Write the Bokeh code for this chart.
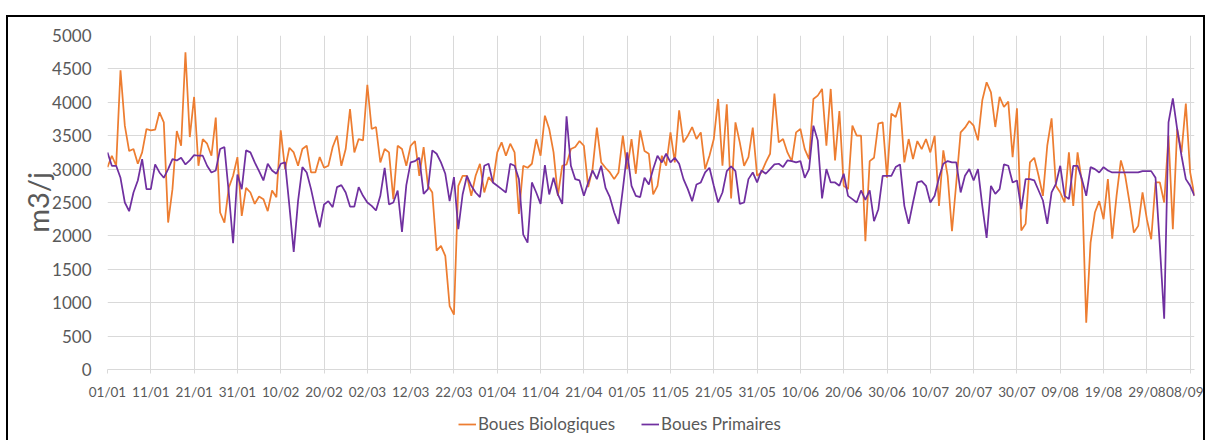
from bokeh.plotting import figure
from bokeh.models import FixedTicker, Legend, LegendItem, ColumnDataSource, Spacer
from bokeh.layouts import column, row
from bokeh.embed import file_html
from bokeh.resources import INLINE

# ---- data ----
tick_labels = ["01/01", "11/01", "21/01", "31/01", "10/02", "20/02", "02/03", "12/03",
               "22/03", "01/04", "11/04", "21/04", "01/05", "11/05", "21/05", "31/05",
               "10/06", "20/06", "30/06", "10/07", "20/07", "30/07", "09/08", "19/08",
               "29/08", "08/09"]
tick_days = [0, 10, 20, 30, 40, 50, 60, 70, 80, 90, 100, 110, 120, 130, 140, 150,
             160, 170, 180, 190, 200, 210, 220, 230, 240, 250]
y_ticks = [0, 500, 1000, 1500, 2000, 2500, 3000, 3500, 4000, 4500, 5000]

boues_biologiques = [
    3030, 3200, 3050, 4480, 3650, 3270, 3300, 3080, 3250, 3600,
    3580, 3590, 3850, 3700, 2200, 2700, 3570, 3350, 4750, 3480,
    4080, 3050, 3450, 3380, 3200, 3770, 2350, 2200, 2720, 2900,
    3180, 2300, 2720, 2650, 2480, 2590, 2550, 2370, 2680, 2580,
    3580, 3000, 3320, 3250, 3050, 3300, 3350, 2950, 2950, 3180,
    3020, 3050, 3330, 3500, 3050, 3300, 3900, 3250, 3450, 3430,
    4260, 3600, 3630, 3100, 3300, 3250, 2550, 3350, 3300, 3050,
    3350, 3420, 2900, 3330, 2750, 2650, 1780, 1850, 1700, 950,
    820, 2750, 2900, 2900, 2600, 2900, 3080, 2650, 2880, 2800,
    3250, 3400, 3200, 3380, 3250, 2330, 3050, 3020, 3080, 3450,
    3200, 3800, 3600, 3250, 2600, 3050, 3070, 3300, 3330, 3420,
    3350, 2730, 3000, 3620, 3100, 3020, 2950, 2850, 2950, 3500,
    3000, 3450, 2930, 3580, 3270, 3230, 2620, 2750, 3200, 3050,
    3550, 3100, 3880, 3400, 3500, 3630, 3450, 3550, 3000, 3200,
    3450, 4050, 3050, 3970, 2560, 3700, 3400, 3050, 3180, 3620,
    2900, 2950, 3100, 3230, 4130, 3400, 3450, 3250, 3120, 3550,
    3600, 3300, 3150, 4050, 4100, 4200, 3350, 4200, 3130, 3870,
    2750, 2700, 3650, 3500, 3500, 1920, 3120, 3170, 3680, 3700,
    2870, 3830, 3780, 4000, 3100, 3450, 3150, 3420, 3300, 3450,
    3250, 3500, 2450, 3280, 2900, 2070, 2800, 3550, 3620, 3720,
    3650, 3430, 4030, 4300, 4150, 3630, 4080, 3930, 4010, 3180,
    3910, 2080, 2180, 3100, 3170, 2900, 2600, 3350, 3760, 2750,
    2650, 2500, 3250, 2450, 3250, 2800, 700, 1900, 2350, 2520,
    2250, 2850, 1960, 2600, 3130, 2900, 2500, 2050, 2150, 2650,
    2250, 1950, 2800, 2800, 2500, 3500, 2100, 3600, 3250, 3980,
    2950, 2600]

boues_primaires = [
    3250, 3050, 3050, 2870, 2500, 2370, 2650, 2830, 3150, 2700,
    2700, 3070, 2950, 2870, 3000, 3150, 3130, 3170, 3070, 3130,
    3210, 3200, 3200, 3050, 2950, 2980, 3300, 3330, 2650, 1890,
    2920, 2700, 3280, 3250, 3100, 2970, 2830, 3080, 2980, 2930,
    3080, 3100, 2450, 1760, 2520, 3030, 2950, 2700, 2400, 2130,
    2470, 2520, 2430, 2730, 2760, 2650, 2440, 2440, 2730, 2600,
    2500, 2450, 2380, 2600, 3020, 2470, 2500, 2680, 2060, 2760,
    3100, 3120, 3170, 2630, 2700, 3280, 3230, 3100, 2930, 2520,
    2880, 2100, 2620, 2900, 2750, 2650, 2580, 3050, 3080, 2800,
    2750, 2700, 2650, 3080, 3050, 2850, 2020, 1900, 2800, 2650,
    2480, 3060, 2620, 2870, 2620, 2480, 3790, 3050, 2850, 2830,
    2600, 2800, 2980, 2850, 3050, 2720, 2580, 2350, 2180, 2700,
    3250, 2750, 2600, 2580, 2870, 2770, 3000, 3200, 3100, 3230,
    3100, 3170, 3080, 2850, 2700, 2520, 2770, 2800, 2950, 3020,
    2750, 2500, 2650, 2970, 3040, 2970, 2480, 2500, 2850, 2950,
    2800, 2980, 2930, 3000, 3070, 3080, 3030, 3130, 3120, 3100,
    3120, 2870, 3000, 3650, 3430, 2560, 3000, 2800, 2800, 2750,
    2930, 2600, 2550, 2500, 2680, 2540, 2680, 2220, 2400, 2900,
    2900, 2900, 3030, 3070, 2450, 2180, 2500, 2800, 2820, 2750,
    2500, 2600, 2870, 3080, 3120, 3100, 3100, 2650, 2900, 3000,
    2830, 3000, 2450, 1970, 2750, 2630, 2700, 3070, 3050, 2800,
    2830, 2400, 2850, 2850, 2830, 2680, 2530, 2180, 2650, 2780,
    3050, 2600, 2550, 3050, 3050, 2850, 2600, 3030, 3000, 2950,
    3030, 2980, 2950, 2950, 2950, 2950, 2950, 2950, 2950, 2970,
    2970, 2970, 2870, 1850, 760, 3700, 4060, 3600, 3200, 2850,
    2750, 2600]

series_names = ["Boues Biologiques", "Boues Primaires"]
series_colors = ["#ED7D31", "#7030A0"]

days = list(range(len(boues_biologiques)))

# ---- style ----
FONT = "Lato"
GREY = "#595959"
GRID = "#D9D9D9"
SIDE = {"border-left": "2px solid black", "border-right": "2px solid black"}

# ---- main chart ----
p = figure(frame_width=1083, frame_height=332,
           x_range=(0, 251), y_range=(0, 5000),
           min_border_left=99, min_border_right=13,
           min_border_top=18, min_border_bottom=20,
           styles=dict(SIDE, **{"border-top": "2px solid black"}),
           output_backend="svg", toolbar_location=None)
p.outline_line_color = None
p.background_fill_color = "white"
p.border_fill_color = "white"

src = ColumnDataSource(dict(x=days, bio=boues_biologiques, prim=boues_primaires))
p.line("x", "bio", source=src, line_color=series_colors[0], line_width=1.75)
p.line("x", "prim", source=src, line_color=series_colors[1], line_width=1.75)

# x axis
p.xaxis.ticker = FixedTicker(ticks=tick_days)
p.xaxis.major_label_overrides = {d: l for d, l in zip(tick_days, tick_labels)}
p.xaxis.axis_line_color = GRID
p.xaxis.major_tick_line_color = GRID
p.xaxis.major_tick_out = 4
p.xaxis.major_tick_in = 0
p.xaxis.minor_tick_line_color = None
p.xaxis.major_label_standoff = 10
p.xaxis.major_label_text_font = FONT
p.xaxis.major_label_text_font_size = "13.5px"
p.xaxis.major_label_text_color = GREY

# y axis
p.yaxis.ticker = FixedTicker(ticks=y_ticks)
p.yaxis.axis_line_color = None
p.yaxis.major_tick_line_color = None
p.yaxis.minor_tick_line_color = None
p.yaxis.major_label_standoff = 10
p.yaxis.major_label_text_font = FONT
p.yaxis.major_label_text_font_size = "17px"
p.yaxis.major_label_text_color = GREY
p.yaxis.axis_label = "m3/j"
p.yaxis.axis_label_text_font = FONT
p.yaxis.axis_label_text_font_size = "29px"
p.yaxis.axis_label_text_font_style = "normal"
p.yaxis.axis_label_text_color = GREY
p.yaxis.axis_label_standoff = -6

# grids
p.xgrid.grid_line_color = GRID
p.ygrid.grid_line_color = GRID
p.xgrid.grid_line_width = 1
p.ygrid.grid_line_width = 1

# ---- legend strip (own small figure so the legend is not clipped) ----
# the series are drawn again here but fall outside this strip's y-range,
# so only their legend swatches show
q = figure(frame_width=1195, frame_height=40, x_range=(0, 251), y_range=(-2, -1),
           min_border_left=0, min_border_right=0, min_border_top=0, min_border_bottom=0,
           x_axis_type=None, y_axis_type=None, styles=SIDE,
           output_backend="svg", toolbar_location=None)
q.outline_line_color = None
q.grid.visible = False
q.background_fill_color = "white"
q.border_fill_color = "white"
items = []
for name, col, key in zip(series_names, series_colors, ["bio", "prim"]):
    r = q.line("x", key, source=src, line_color=col, line_width=1.75)
    items.append(LegendItem(label=name, renderers=[r]))
legend = Legend(items=items, location=(450, 6), orientation="horizontal",
                border_line_color=None, background_fill_alpha=0,
                padding=0, margin=0, spacing=26,
                glyph_width=18, glyph_height=20, label_height=20,
                label_standoff=2, label_text_font=FONT,
                label_text_font_size="17px", label_text_color=GREY)
q.add_layout(legend)

layout = column(Spacer(width=10, height=15),
                row(Spacer(width=6, height=10), column(p, q)))

open("out.html", "w").write(file_html(layout, INLINE))
